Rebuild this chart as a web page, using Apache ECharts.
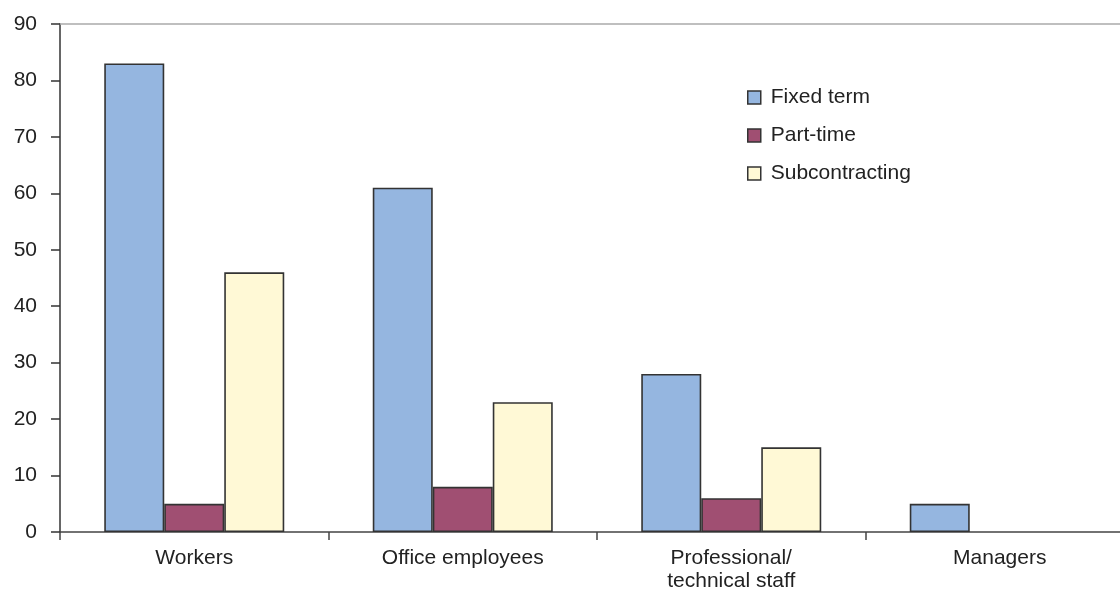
<!DOCTYPE html>
<html>
<head>
<meta charset="utf-8">
<script src="https://cdn.jsdelivr.net/npm/echarts@6/dist/echarts.min.js"></script>
<style>
  html, body { margin: 0; padding: 0; background: #fff; overflow: hidden; }
  /* the plot runs slightly past the right edge of the window */
  #chart { width: 1140px; height: 593px; }
</style>
</head>
<body>
<div id="chart"></div>
<script>
// Occupational categories on the horizontal axis
const categories = ['Workers', 'Office employees', 'Professional/\ntechnical staff', 'Managers'];

// Share of firms using each contract form, by category
const fixedTerm = [83, 61, 28, 5];
const partTime = [5, 8, 6, null];
const subcontracting = [46, 23, 15, null];

const seriesNames = ['Fixed term', 'Part-time', 'Subcontracting'];
const yTicks = [0, 10, 20, 30, 40, 50, 60, 70, 80, 90];

const colors = ['#95b6e0', '#a04f72', '#fff9d6'];
const font = 'Liberation Sans, Arial, sans-serif';

const chart = echarts.init(document.getElementById('chart'), null, { renderer: 'canvas' });

const makeSeries = (name, data, color) => ({
  name,
  type: 'bar',
  data,
  barWidth: 60,
  barGap: '0%',
  itemStyle: { color, borderColor: '#333', borderWidth: 1.6 },
  emphasis: { disabled: true },
  animation: false
});

chart.setOption({
  animation: false,
  grid: { left: 60, right: 6, top: 24, bottom: 59, containLabel: false },
  legend: {
    orient: 'vertical',
    left: 747,
    top: 87,
    padding: 0,
    itemWidth: 13,
    itemHeight: 13,
    itemGap: 17,
    icon: 'rect',
    selectedMode: false,
    itemStyle: { borderColor: '#333', borderWidth: 1.5 },
    textStyle: { fontFamily: font, fontSize: 21, color: '#222', lineHeight: 21, padding: [0, 0, 0, 5] },
    data: seriesNames
  },
  xAxis: [{
    type: 'category',
    data: categories,
    position: 'bottom',
    axisLine: { show: true, lineStyle: { color: '#444', width: 1.5 } },
    axisTick: { show: true, alignWithLabel: false, length: 8, lineStyle: { color: '#444', width: 1.5 } },
    axisLabel: { fontFamily: font, fontSize: 21, color: '#222', margin: 15, lineHeight: 23, interval: 0 },
    splitLine: { show: false }
  }, {
    type: 'category',
    data: categories,
    position: 'top',
    axisLine: { show: true, lineStyle: { color: '#aaa', width: 1.5 } },
    axisTick: { show: false },
    axisLabel: { show: false }
  }],
  yAxis: {
    type: 'value',
    min: yTicks[0],
    max: yTicks[yTicks.length - 1],
    interval: 10,
    axisLine: { show: true, lineStyle: { color: '#333', width: 1.5 } },
    axisTick: { show: true, length: 9, lineStyle: { color: '#333', width: 1.5 } },
    axisLabel: { fontFamily: font, fontSize: 21, color: '#222', margin: 23 },
    splitLine: { show: false }
  },
  series: [
    makeSeries(seriesNames[0], fixedTerm, colors[0]),
    makeSeries(seriesNames[1], partTime, colors[1]),
    makeSeries(seriesNames[2], subcontracting, colors[2])
  ]
});
</script>
</body>
</html>
